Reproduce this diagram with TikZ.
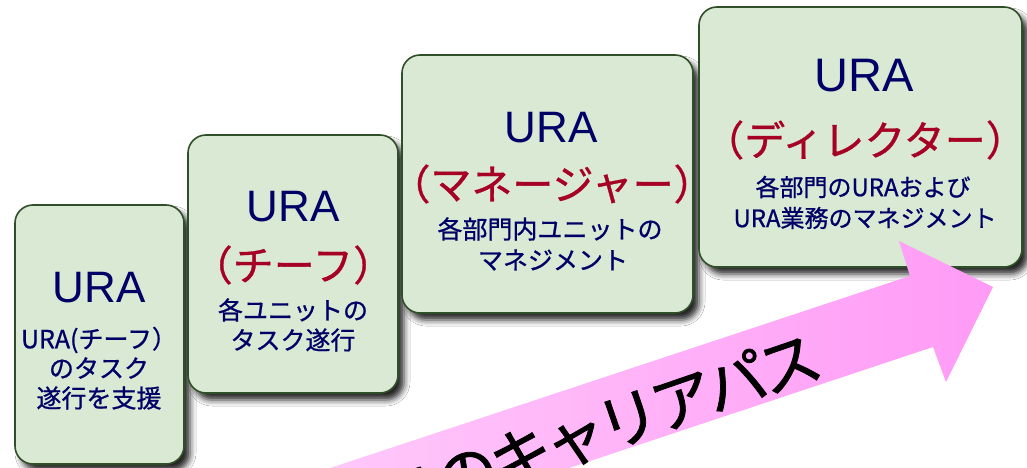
\documentclass[tikz,border=0pt]{standalone}
\usepackage{fontspec}
\setmainfont{Noto Sans CJK JP}[FakeBold=0.8]
\newfontfamily\latinf{Liberation Sans}
\newfontfamily\pathfont{Noto Sans CJK JP}[FakeBold=1.2, LetterSpace=-8]
\usetikzlibrary{shadows.blur}
\definecolor{boxfill}{RGB}{217,233,212}
\definecolor{boxdraw}{RGB}{47,79,40}
\definecolor{navy}{RGB}{0,0,102}
\definecolor{rolered}{RGB}{166,0,36}
\definecolor{pinkL}{RGB}{255,202,250}
\definecolor{pinkR}{RGB}{255,155,246}
\begin{document}
\begin{tikzpicture}[x=1pt,y=-1pt,
  box/.style={draw=boxdraw, line width=1.6pt, fill=boxfill, rounded corners=18pt,
    blur shadow={shadow xshift=6pt, shadow yshift=-7pt, shadow blur radius=6pt, shadow opacity=85},
    inner sep=0pt, outer sep=0pt},
  ura/.style={text=navy, font=\latinf\fontsize{44}{44}\selectfont, inner sep=0pt},
  role/.style={text=rolered, font=\fontsize{41}{41}\selectfont, inner sep=0pt},
  desc/.style={text=navy, font=\fontsize{25}{25}\selectfont, inner sep=0pt},
  pathtext/.style={text=black, font=\pathfont\fontsize{62}{62}\selectfont, inner sep=0pt, rotate=19},
  arrowfill/.style={left color=pinkL, right color=pinkR, draw=none}
]
\useasboundingbox (0,0) rectangle (1027,468);
\clip (0,0) rectangle (1027,468);
\fill[white] (0,0) rectangle (1027,468);

% boxes
\node[box, minimum width=169pt, minimum height=259pt] (b1) at (99.5,334.5) {};
\node[box, minimum width=210pt, minimum height=258pt] (b2) at (293,264) {};
\node[box, minimum width=291pt, minimum height=258pt] (b3) at (547.5,184) {};
\node[box, minimum width=323pt, minimum height=260pt] (b4) at (860.5,137) {};

% box 1
\node[ura] (u1) at (99,288) {URA};
\node[desc] (d1a) at (99,340) {URA(チーフ）};
\node[desc] (d1b) at (99,368) {のタスク};
\node[desc] (d1c) at (99,398) {遂行を支援};

% box 2
\node[ura] (u2) at (293,207) {URA};
\node[role] (r2) at (293,265) {（チーフ）};
\node[desc] (d2a) at (293,310) {各ユニットの};
\node[desc] (d2b) at (293,340) {タスク遂行};

% box 3
\node[ura] (u3) at (551,128) {URA};
\node[role] (r3) at (552,184) {（マネージャー）};
\node[desc] (d3a) at (550,229) {各部門内ユニットの};
\node[desc] (d3b) at (553,260) {マネジメント};

% box 4
\node[ura, font=\latinf\fontsize{47}{47}\selectfont] (u4) at (864,76) {URA};
\node[role] (r4) at (865,140) {（ディレクター）};
\node[desc, font=\fontsize{24}{24}\selectfont] (d4a) at (863,187) {各部門のURAおよび};
\node[desc, font=\fontsize{24}{24}\selectfont] (d4b) at (865,218) {URA業務のマネジメント};

% career arrow
\coordinate (aL1) at (300,478);
\coordinate (aJ1) at (910,276);
\coordinate (aB1) at (899,241);
\coordinate (aTip) at (993,287);
\coordinate (aB2) at (946,382);
\coordinate (aJ2) at (933,347);
\coordinate (aL2) at (560,471);
\path[arrowfill] (aL1) -- (aJ1) -- (aB1) -- (aTip) -- (aB2) -- (aJ2) -- (aL2) -- cycle;
\node[pathtext, anchor=east] (career) at (819,354) {URAのキャリアパス};
\end{tikzpicture}
\end{document}
